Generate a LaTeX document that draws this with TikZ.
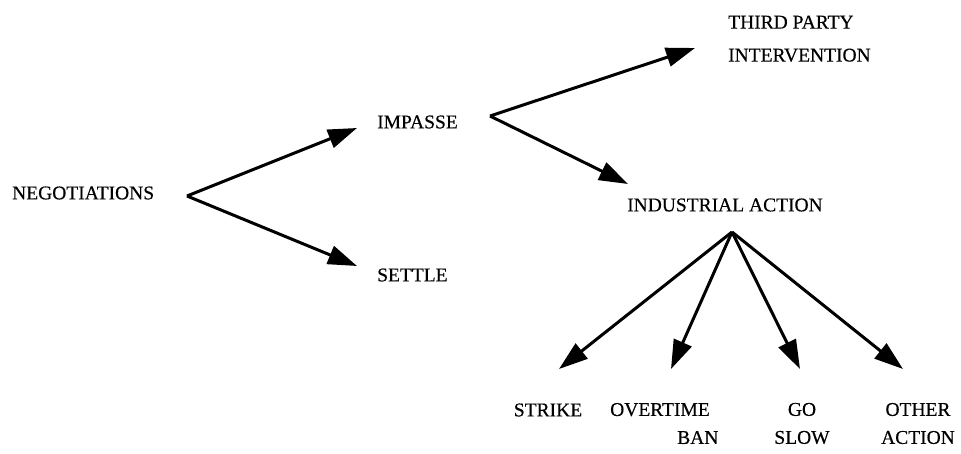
\documentclass[tikz,border=0pt]{standalone}
\usepackage{fontspec}
\setmainfont{Liberation Serif}
\newfontfamily\lblfont{Liberation Serif}[FakeBold=0.4]
\usetikzlibrary{arrows.meta}
\tikzset{
  lbl/.style={inner sep=0pt, font=\lblfont\fontsize{19.5}{33}\selectfont},
  lbl2/.style={inner sep=0pt, font=\lblfont\fontsize{19.5}{28}\selectfont},
  arr/.style={line width=3pt, -{Triangle[length=29pt,width=19pt]}}
}
\begin{document}
\begin{tikzpicture}[x=1pt,y=-1pt]
\useasboundingbox (0,0) rectangle (961,453);
% labels
\node[lbl,anchor=west] (neg) at (12,193) {NEGOTIATIONS};
\node[lbl,anchor=west] (imp) at (377,122) {IMPASSE};
\node[lbl,anchor=west] (set) at (377,275) {SETTLE};
\node[lbl,anchor=west,align=left] (tpi) at (728,38.75) {THIRD PARTY\\INTERVENTION};
\node[lbl,anchor=west] (ind) at (627,205) {INDUSTRIAL ACTION};
\node[lbl2] (str) at (548,410) {STRIKE};
\node[lbl2,anchor=west,align=left] (ovt) at (610,423.5) {OVERTIME\\\hspace*{67pt}BAN};
\node[lbl2,align=center] (gos) at (802,423.5) {GO\\SLOW};
\node[lbl2,align=center] (oth) at (918,423.5) {OTHER\\ACTION};
% branch points and arrow tips
\coordinate (b1) at (187,196);
\coordinate (tImp) at (357,128);
\coordinate (tSet) at (357,266);
\coordinate (b2) at (490,116);
\coordinate (tTpi) at (695,48);
\coordinate (tInd) at (628,184);
\coordinate (b3) at (732,232);
\coordinate (tStr) at (559,369);
\coordinate (tOvt) at (671,369);
\coordinate (tGos) at (800,369);
\coordinate (tOth) at (903,369);
% connectors
\draw[arr] (b1) -- (tImp);
\draw[arr] (b1) -- (tSet);
\draw[arr] (b2) -- (tTpi);
\draw[arr] (b2) -- (tInd);
\draw[arr] (b3) -- (tStr);
\draw[arr] (b3) -- (tOvt);
\draw[arr] (b3) -- (tGos);
\draw[arr] (b3) -- (tOth);
\end{tikzpicture}
\end{document}
